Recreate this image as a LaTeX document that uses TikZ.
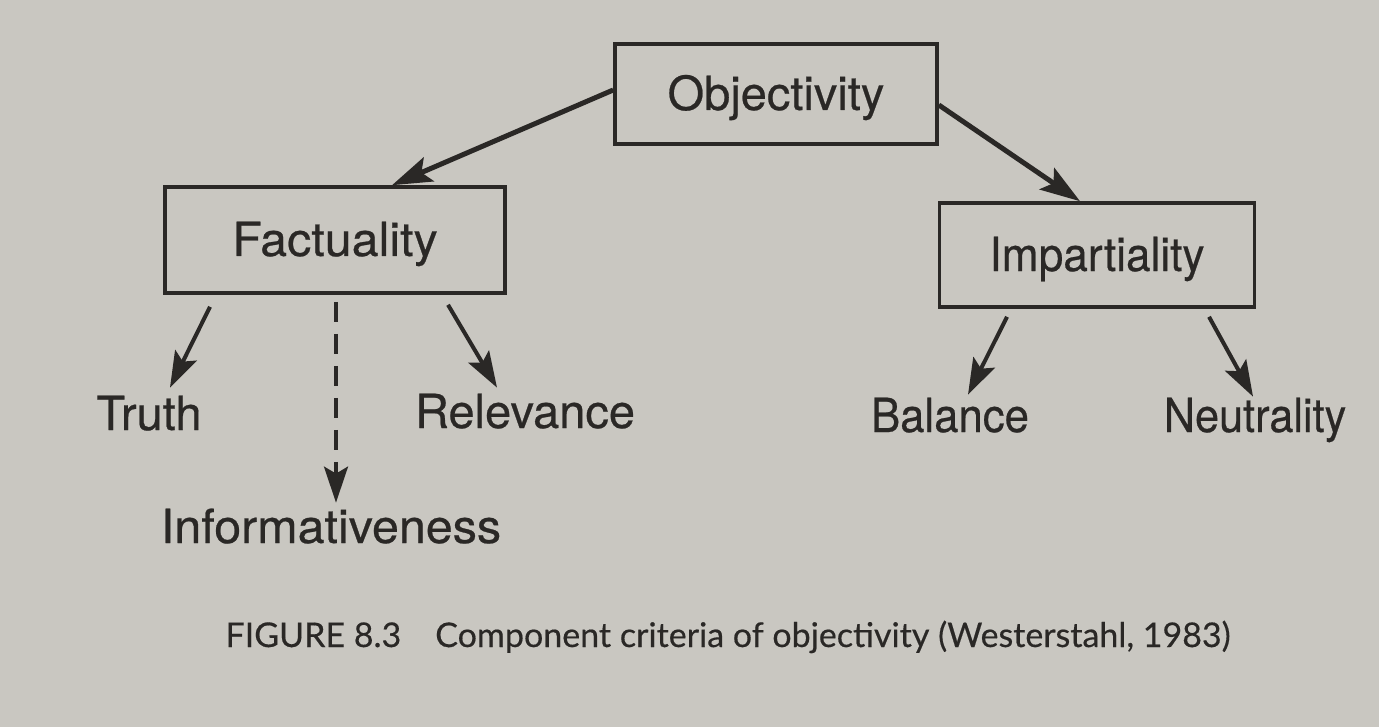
\documentclass[tikz,border=0pt]{standalone}
\usepackage{fontspec}
\usepackage{graphicx}
\setmainfont{TeX Gyre Heros}
\newfontfamily\heavyfont{TeX Gyre Heros}[FakeBold=0.5]
\newfontfamily\capfont{Lato}[FakeBold=0.4]
\usetikzlibrary{calc,arrows.meta}
\definecolor{paper}{HTML}{C9C7C1}
\definecolor{ink}{HTML}{2A2826}
\newcommand\hsc[2]{\scalebox{#1}[1]{#2}}
\tikzset{
  box/.style={draw=ink, line width=1.8pt, rectangle, inner sep=0pt,
    font=\heavyfont\fontsize{23.5pt}{26pt}\selectfont, text=ink, text height=17pt, text depth=1pt},
  leaf/.style={anchor=base, inner sep=0pt, font=\heavyfont\fontsize{23.5pt}{26pt}\selectfont,
    text=ink, text height=17pt, text depth=0pt},
  bigarrow/.style={draw=ink, line width=2.5pt, -{Stealth[length=20pt,width=13pt,inset=4pt]}},
  smallarrow/.style={draw=ink, line width=2pt, -{Stealth[length=18pt,width=12pt,inset=3.5pt]}},
  dasharrow/.style={draw=ink, line width=1.8pt, dash pattern=on 10pt off 6pt,
    -{Stealth[length=18pt,width=12pt,inset=3.5pt]}},
}
\begin{document}
\begin{tikzpicture}[x=0.5pt,y=-0.5pt]
\fill[paper] (0,0) rectangle (1379,727);
\useasboundingbox (0,0) rectangle (1379,727);

\node[box, minimum width=161pt, minimum height=50pt] (obj) at (776,94) {Objectivity};
\node[box, minimum width=170pt, minimum height=53pt] (fac) at (335,240) {\hsc{1.03}{Factuality}};
\node[box, minimum width=157.5pt, minimum height=52pt] (imp) at (1097,255) {\hsc{0.94}{Impartiality}};

\node[leaf] (truth) at (149,430) {Truth};
\node[leaf] (rel) at (525,428) {Relevance};
\node[leaf] (info) at (331,543) {\hsc{1.03}{Informativeness}};
\node[leaf] (bal) at (950,432) {\hsc{0.93}{Balance}};
\node[leaf] (neu) at (1255,432) {\hsc{0.92}{Neutrality}};

\draw[bigarrow] ($(obj.west)+(0,-4)$) -- ($(fac.north)+(57,0)$);
\draw[bigarrow] ($(obj.east)+(0,11)$) -- ($(imp.north)+(-17,0)$);

\draw[smallarrow] ($(fac.south)+(-125,12)$) -- ($(truth.north)+(21,-8)$);
\draw[dasharrow] ($(fac.south)+(1,7)$) -- ($(info.north)+(5,-6)$);
\draw[smallarrow] ($(fac.south)+(113,10)$) -- ($(rel.north)+(-28,-6)$);
\draw[smallarrow] ($(imp.south)+(-90,8)$) -- ($(bal.north)+(18,-3)$);
\draw[smallarrow] ($(imp.south)+(112,8)$) -- ($(neu.north)+(-2,-1)$);

\node[anchor=base, inner sep=0pt, text=ink, font=\capfont\fontsize{17pt}{20pt}\selectfont] (cap) at (728,647)
  {FIGURE 8.3\quad Component criteria of objectivity (Westerstahl, 1983)};
\end{tikzpicture}
\end{document}
